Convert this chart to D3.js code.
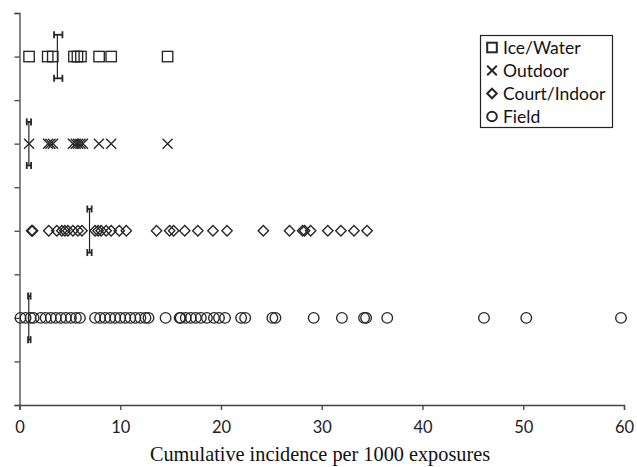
<!DOCTYPE html>
<html><head><meta charset="utf-8">
<script src="https://cdn.jsdelivr.net/npm/d3@7"></script>
<style>body{margin:0;background:#fff}svg{display:block}</style>
</head><body>
<svg id="c" width="637" height="467"></svg>
<script>
const categories = ["Ice/Water", "Outdoor", "Court/Indoor", "Field"];
const categoryY = [8, 6, 4, 2];
const iceWater = [0.95, 2.8, 3.3, 5.4, 5.75, 6.1, 7.9, 9.1, 14.7];
const outdoor = [0.95, 2.83, 3.07, 3.33, 5.3, 5.58, 5.81, 6.05, 6.3, 7.88, 9.1, 14.7];
const courtIndoor = [1.2, 1.3, 2.9, 3.7, 4.2, 4.5, 4.8, 5.3, 5.8, 6.2, 7.5, 7.8, 8.1, 8.6, 9.1, 9.9, 10.6, 13.6, 14.9, 15.3, 16.4, 17.7, 19.2, 20.6, 24.2, 26.8, 28.1, 28.3, 28.9, 30.6, 31.9, 33.2, 34.5];
const field = [0.1, 0.6, 1.1, 1.4, 2.1, 2.6, 3.1, 3.6, 4.1, 4.6, 5.1, 5.6, 6.0, 7.5, 8.0, 8.5, 9.0, 9.5, 10.0, 10.5, 11.0, 11.5, 12.0, 12.5, 12.8, 14.5, 15.9, 16.0, 16.5, 17.0, 17.5, 18.0, 18.6, 19.3, 19.8, 20.4, 22.0, 22.4, 25.1, 25.4, 29.2, 32.0, 34.2, 34.4, 36.5, 46.1, 50.3, 59.7];
const means = [3.76, 0.93, 6.95, 0.92];
const ciLow = [3.43, 0.72, 6.73, 0.85];
const ciHigh = [4.26, 1.15, 7.16, 1.1];
const xTicks = [0, 10, 20, 30, 40, 50, 60];
const yTicks = [0, 1, 2, 3, 4, 5, 6, 7, 8, 9];
const xTitle = "Cumulative incidence per 1000 exposures";

const svg = d3.select("#c");
const x = d3.scaleLinear().domain([0, 60]).range([19.5, 624]);
const y = d3.scaleLinear().domain([0, 9]).range([405, 13]);
const ink = "#262626";

// axes
const xAxis = d3.axisBottom(x).tickValues(xTicks).tickSize(5).tickPadding(11);
const gx = svg.append("g").attr("transform", `translate(0,${y(0)})`).call(xAxis);
gx.select(".domain").attr("stroke", "#444").attr("stroke-width", 1.3);
gx.selectAll(".tick line").attr("stroke", "#444").attr("stroke-width", 1.3);
gx.selectAll(".tick text").attr("font-family", "Lato, 'Open Sans', sans-serif").attr("font-size", 16.5).attr("fill", "#222");

const yAxis = d3.axisLeft(y).tickValues(yTicks).tickSize(5).tickFormat("");
const gy = svg.append("g").attr("transform", `translate(${x(0)},0)`).call(yAxis);
gy.select(".domain").attr("stroke", "#444").attr("stroke-width", 1.3);
gy.selectAll(".tick line").attr("stroke", "#444").attr("stroke-width", 1.3);

svg.append("text").attr("x", 320).attr("y", 461).attr("text-anchor", "middle")
  .attr("font-family", "'Liberation Serif', 'Times New Roman', serif").attr("font-size", 20.3).attr("fill", "#111")
  .text(xTitle);

function drawMarker(g, kind, cx, cy, h, sw) {
  if (kind === 0) {
    g.append("rect").attr("x", cx - h).attr("y", cy - h).attr("width", 2 * h).attr("height", 2 * h)
      .attr("fill", "none").attr("stroke", ink).attr("stroke-width", sw);
  } else if (kind === 1) {
    g.append("path").attr("d", `M${cx - h},${cy - h}L${cx + h},${cy + h}M${cx - h},${cy + h}L${cx + h},${cy - h}`)
      .attr("fill", "none").attr("stroke", ink).attr("stroke-width", sw);
  } else if (kind === 2) {
    g.append("path").attr("d", `M${cx},${cy - h}L${cx + h},${cy}L${cx},${cy + h}L${cx - h},${cy}Z`)
      .attr("fill", "none").attr("stroke", ink).attr("stroke-width", sw);
  } else {
    g.append("circle").attr("cx", cx).attr("cy", cy).attr("r", h)
      .attr("fill", "none").attr("stroke", ink).attr("stroke-width", sw);
  }
}

const seriesList = [iceWater, outdoor, courtIndoor, field];
const sizes = [5.2, 5, 5.2, 5.3];
seriesList.forEach((vals, i) => {
  const g = svg.append("g");
  vals.forEach(v => drawMarker(g, i, x(v), y(categoryY[i]), sizes[i], 1.35));
});

// mean line with CI bars at top and bottom
categories.forEach((c, i) => {
  const g = svg.append("g").attr("stroke", ink).attr("fill", "none");
  const yt = y(categoryY[i] + 0.5), yb = y(categoryY[i] - 0.5);
  g.append("line").attr("x1", x(means[i])).attr("x2", x(means[i])).attr("y1", yt).attr("y2", yb).attr("stroke-width", 1.2);
  [yt, yb].forEach(yy => {
    g.append("line").attr("x1", x(ciLow[i])).attr("x2", x(ciHigh[i])).attr("y1", yy).attr("y2", yy).attr("stroke-width", 1.8);
    [ciLow[i], ciHigh[i]].forEach(v => {
      g.append("line").attr("x1", x(v)).attr("x2", x(v)).attr("y1", yy - 3.5).attr("y2", yy + 3.5).attr("stroke-width", 1.8);
    });
  });
});

// legend
const lg = svg.append("g");
lg.append("rect").attr("x", 480.5).attr("y", 35.5).attr("width", 132).attr("height", 92)
  .attr("fill", "#fff").attr("stroke", "#222").attr("stroke-width", 1.2);
categories.forEach((c, i) => {
  const cy = 47.5 + i * 23;
  drawMarker(lg, i, 492, cy, 4.8, 2);
  lg.append("text").attr("x", 503).attr("y", cy).attr("dy", "0.36em")
    .attr("font-family", "Lato, 'Open Sans', sans-serif").attr("font-size", 17.5).attr("fill", "#111").text(c);
});
</script>
</body></html>
